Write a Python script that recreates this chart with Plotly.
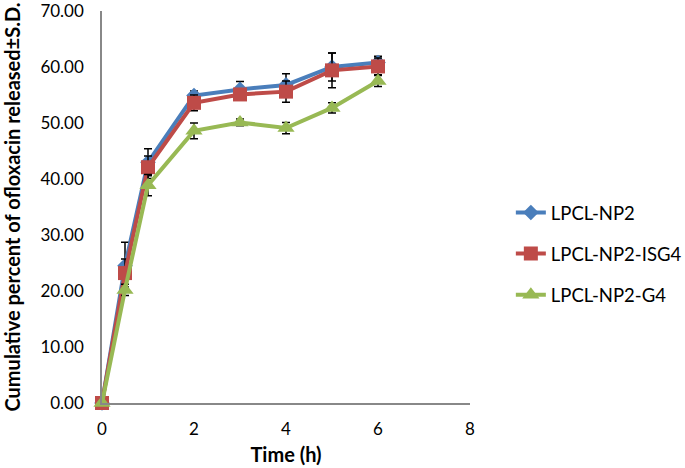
import plotly.graph_objects as go

time_h = [0, 0.5, 1, 2, 3, 4, 5, 6]
names = ["LPCL-NP2", "LPCL-NP2-ISG4", "LPCL-NP2-G4"]
np2 = [0.0, 24.5, 43.0, 54.9, 56.0, 56.8, 60.0, 60.8]
np2_sd = [0.0, 4.2, 2.4, 0.8, 1.4, 2.0, 2.5, 1.1]
isg4 = [0.0, 23.2, 42.1, 53.6, 55.1, 55.6, 59.4, 60.1]
isg4_sd = [0.0, 2.5, 2.0, 1.4, 1.0, 1.9, 3.1, 1.5]
g4 = [0.0, 20.2, 38.9, 48.6, 50.1, 49.1, 52.7, 57.5]
g4_sd = [0.0, 1.0, 1.9, 1.4, 0.6, 1.0, 0.9, 1.0]
y_ticks = [0, 10, 20, 30, 40, 50, 60, 70]
x_ticks = [0, 2, 4, 6, 8]

colors = ["#4a7ebb", "#be4b48", "#98b954"]
symbols = ["diamond", "square", "triangle-up"]
sizes = [12, 14, 15]
series = [np2, isg4, g4]
sds = [np2_sd, isg4_sd, g4_sd]

fig = go.Figure()
for i in range(3):
    fig.add_trace(go.Scatter(
        x=time_h, y=series[i], name=names[i], mode="lines+markers",
        legendgroup=names[i],
        line=dict(color=colors[i], width=4),
        marker=dict(symbol=symbols[i], size=sizes[i], color=colors[i]),
        error_y=dict(type="data", array=sds[i], visible=True, color="black",
                     thickness=1.5, width=4),
        cliponaxis=False,
    ))

fig.update_layout(
    width=685, height=468,
    margin=dict(l=102, r=215, t=11, b=65, autoexpand=False),
    plot_bgcolor="white", paper_bgcolor="white",
    font=dict(family="Lato, Open Sans, sans-serif", size=17, color="black"),
    showlegend=True,
    legend=dict(x=1.111, y=0.38, xanchor="left", yanchor="middle",
                font=dict(size=18.5), tracegroupgap=14, bgcolor="rgba(0,0,0,0)"),
    xaxis=dict(range=[0, 8], tickvals=x_ticks, showgrid=False, automargin=False,
               zeroline=False, showline=True, linecolor="#888888", linewidth=1.5,
               ticks="", ticklabelstandoff=10, ticklabeloverflow="allow",
               title=dict(text="<b>Time (h)</b>", font=dict(size=20), standoff=10)),
    yaxis=dict(range=[0, 70.001], tickvals=y_ticks, automargin=False,
               tickformat=".2f", showgrid=False, zeroline=False,
               showline=True, linecolor="#888888", linewidth=1.5, ticks="",
               ticklabelstandoff=13, ticklabeloverflow="allow",
               title=dict(text="<b>Cumulative percent of ofloxacin released±S.D.</b>",
                          font=dict(size=20), standoff=18)),
)

fig.write_html("out.html", config={"displayModeBar": False},
               post_script="document.body.style.margin='0';")
